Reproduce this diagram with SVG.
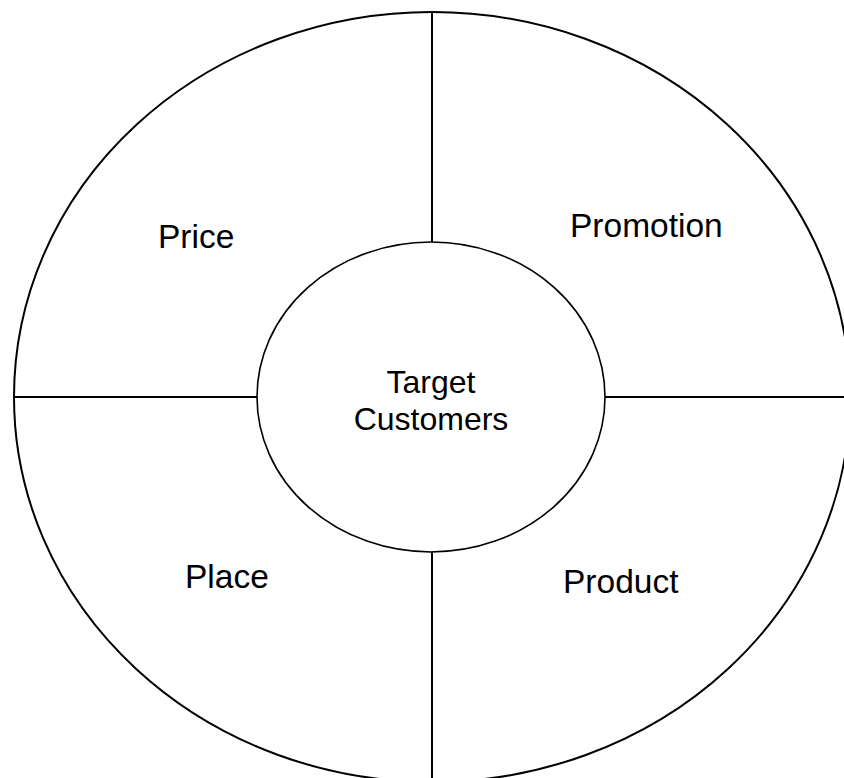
<svg xmlns="http://www.w3.org/2000/svg" width="844" height="778" viewBox="0 0 844 778">
<style>
.s{fill:none;stroke:#000;stroke-width:2}
.t{font-family:"Liberation Sans",Arial,sans-serif;fill:#000}
.o{font-size:33.5px}
.i{font-size:32px;text-anchor:middle}
</style>
<rect width="844" height="778" fill="#fff"/>
<g id="outer"><ellipse class="s" cx="432" cy="397" rx="418" ry="385"/></g>
<g id="connectors">
<line class="s" x1="432" y1="12" x2="432" y2="242"/>
<line class="s" x1="432" y1="552" x2="432" y2="782"/>
<line class="s" x1="14" y1="397" x2="257" y2="397"/>
<line class="s" x1="605" y1="397" x2="850" y2="397"/>
</g>
<g id="target"><ellipse class="s" cx="431" cy="397" rx="174" ry="155" fill="#fff" style="stroke-width:1.6"/>
<text class="t i" x="431" y="393">Target</text>
<text class="t i" x="431" y="430">Customers</text></g>
<g id="price"><text class="t o" x="158" y="248">Price</text></g>
<g id="promotion"><text class="t o" x="570" y="237">Promotion</text></g>
<g id="place"><text class="t o" x="185" y="588">Place</text></g>
<g id="product"><text class="t o" x="563" y="593">Product</text></g>
</svg>
